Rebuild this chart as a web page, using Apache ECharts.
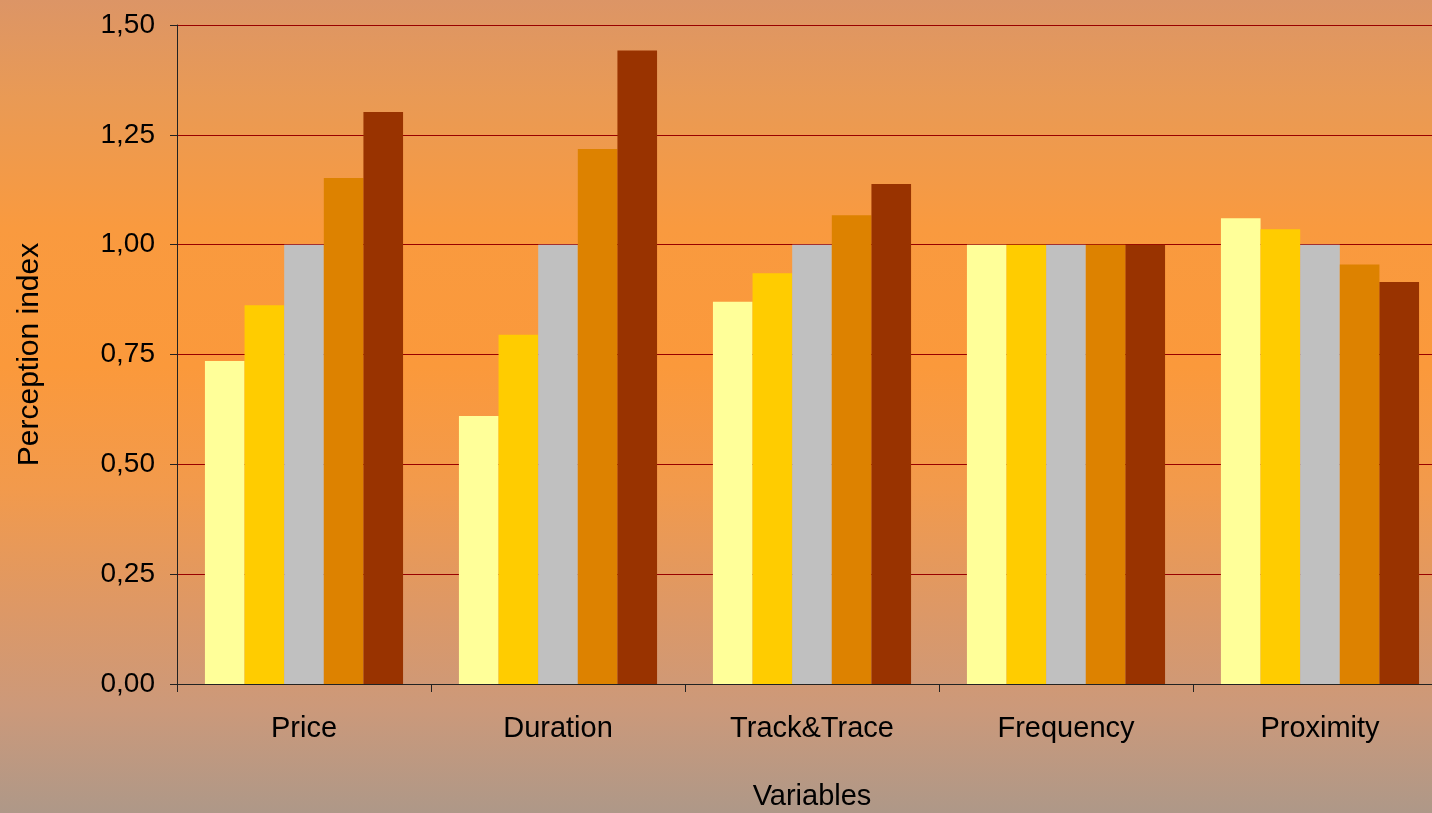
<!DOCTYPE html>
<html>
<head>
<meta charset="utf-8">
<title>Perception index by variable</title>
<script src="https://cdn.jsdelivr.net/npm/echarts@6/dist/echarts.min.js"></script>
<style>
  html, body { margin: 0; padding: 0; overflow: hidden; }
  #chart {
    width: 1432px; height: 813px;
    background: linear-gradient(to bottom,
      #dc9566 0%, #e99a55 12%, #f99a3f 28%, #fb993b 45%,
      #f29a4c 60%, #dd9866 75%, #cc997a 87%, #ae9888 100%);
  }
</style>
</head>
<body>
<div id="chart"></div>
<script>
// Variables on the x axis
const categories = ['Price', 'Duration', 'Track&Trace', 'Frequency', 'Proximity'];

// Perception index for each of the five levels, per variable
const level1 = [0.735, 0.610, 0.870, 1.000, 1.060];
const level2 = [0.862, 0.795, 0.935, 1.000, 1.035];
const level3 = [1.000, 1.000, 1.000, 1.000, 1.000];
const level4 = [1.152, 1.218, 1.067, 1.000, 0.955];
const level5 = [1.302, 1.442, 1.138, 1.000, 0.915];

// Value-axis ticks
const yTicks = [0, 0.25, 0.5, 0.75, 1.0, 1.25, 1.5];

const seriesData = [level1, level2, level3, level4, level5];
const seriesNames = ['Level 1', 'Level 2', 'Level 3', 'Level 4', 'Level 5'];
const colors = ['#ffff99', '#ffcc00', '#c0c0c0', '#dd8200', '#993300'];

const font = 'Liberation Sans, Arial, sans-serif';
const chart = echarts.init(document.getElementById('chart'), null, { renderer: 'canvas' });

chart.setOption({
  backgroundColor: 'transparent',
  animation: false,
  // plot area runs a little past the right edge of the canvas
  grid: { left: 177, top: 25, width: 1270, height: 659, containLabel: false, outerBoundsMode: 'none' },
  xAxis: {
    type: 'category',
    data: categories,
    name: 'Variables',
    nameLocation: 'middle',
    nameGap: 98,
    nameTextStyle: { color: '#000', fontFamily: font, fontSize: 29 },
    axisLine: { lineStyle: { color: '#222', width: 1 } },
    axisTick: { show: true, length: 8, lineStyle: { color: '#222' } },
    axisLabel: { color: '#000', fontFamily: font, fontSize: 29, margin: 30 },
    splitLine: { show: false }
  },
  yAxis: {
    type: 'value',
    min: yTicks[0],
    max: yTicks[yTicks.length - 1],
    interval: yTicks[1] - yTicks[0],
    name: 'Perception index',
    nameLocation: 'middle',
    nameGap: 132,
    nameRotate: 90,
    nameTextStyle: { color: '#000', fontFamily: font, fontSize: 30 },
    axisLine: { show: true, lineStyle: { color: '#222', width: 1 } },
    axisTick: { show: true, length: 7, lineStyle: { color: '#222' } },
    axisLabel: {
      color: '#000', fontFamily: font, fontSize: 28, margin: 22,
      formatter: v => v.toFixed(2).replace('.', ',')
    },
    splitLine: { show: true, lineStyle: { color: '#990000', width: 1 } }
  },
  series: seriesData.map((d, i) => ({
    type: 'bar',
    name: seriesNames[i],
    data: d,
    barGap: '0%',
    barCategoryGap: '22%',
    itemStyle: { color: colors[i] }
  }))
});
</script>
</body>
</html>
